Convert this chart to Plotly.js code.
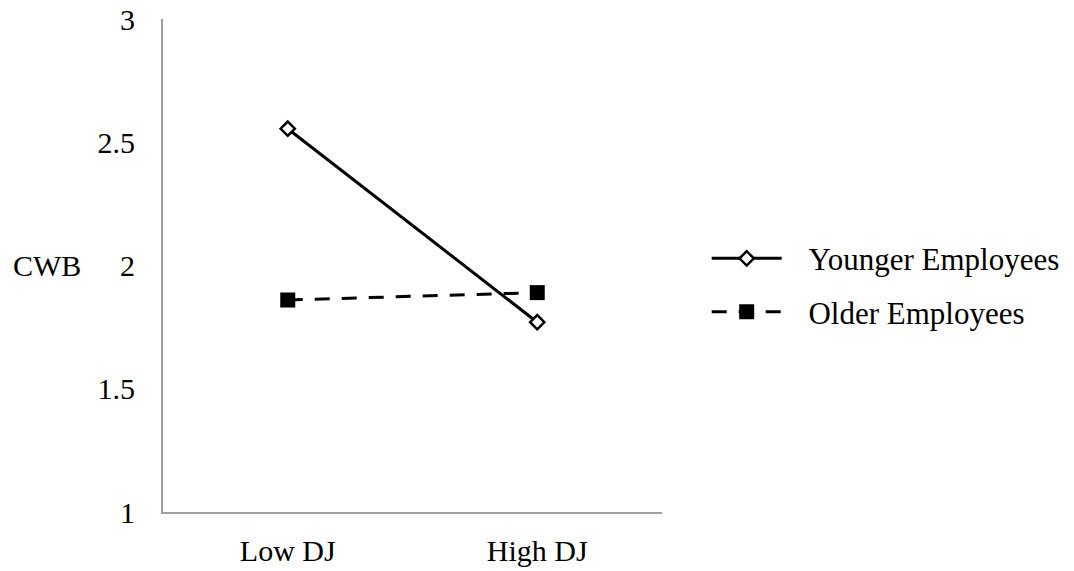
<!DOCTYPE html>
<html>
<head>
<meta charset="utf-8">
<script src="https://cdn.plot.ly/plotly-3.0.1.min.js"></script>
<style>html,body{margin:0;padding:0;background:#fff;}#chart{width:1074px;height:571px;}</style>
</head>
<body>
<div id="chart"></div>
<script>
const categories = ["Low DJ", "High DJ"];
const younger = [2.555, 1.77];
const older = [1.86, 1.89];
const seriesNames = ["Younger Employees", "Older Employees"];
const yTicks = [1, 1.5, 2, 2.5, 3];
const yTickText = ["1", "1.5", "2", "2.5", "3"];
const yAxisLabel = "CWB";

const FONT = "Liberation Serif";
const FS = 30;
const LEGEND_PAD = "\u2002\u2009";

const traces = [
  {
    x: categories, y: younger, name: LEGEND_PAD + seriesNames[0], type: "scatter", mode: "lines+markers",
    legendgroup: "a",
    line: {color: "#000", width: 3},
    marker: {symbol: "diamond", size: 11, color: "#fff", line: {color: "#000", width: 2.5}}
  },
  {
    x: categories, y: older, name: LEGEND_PAD + seriesNames[1], type: "scatter", mode: "lines+markers",
    legendgroup: "b",
    line: {color: "#000", width: 3, dash: "15px,12px"},
    marker: {symbol: "square", size: 15, color: "#000", line: {color: "#000", width: 0}}
  }
];

const layout = {
  width: 1074, height: 571,
  margin: {l: 163, r: 412, t: 19, b: 59},
  paper_bgcolor: "#fff", plot_bgcolor: "#fff",
  font: {family: FONT, size: FS, color: "#000"},
  showlegend: true,
  legend: {
    xref: "container", yref: "container",
    x: 0.658, xanchor: "left", y: 0.5005, yanchor: "middle",
    itemwidth: 70, traceorder: "grouped", tracegroupgap: 10,
    font: {family: FONT, size: 31, color: "#000"},
    bgcolor: "rgba(0,0,0,0)"
  },
  xaxis: {
    type: "category", range: [-0.5, 1.5],
    showline: true, linecolor: "#a0a0a0", linewidth: 2,
    showgrid: false, zeroline: false, ticks: "", ticklabelstandoff: 11,
    tickfont: {family: FONT, size: FS, color: "#000"}, fixedrange: true
  },
  yaxis: {
    range: [1, 3], tickvals: yTicks, ticktext: yTickText,
    showline: true, linecolor: "#a0a0a0", linewidth: 2,
    showgrid: false, zeroline: false, ticks: "", ticklabelstandoff: 20,
    tickfont: {family: FONT, size: FS, color: "#000"}, fixedrange: true
  },
  annotations: [{
    text: yAxisLabel, xref: "paper", yref: "y", x: -0.232, y: 2, xanchor: "center", yanchor: "middle",
    showarrow: false, font: {family: FONT, size: FS, color: "#000"}
  }]
};

Plotly.newPlot("chart", traces, layout, {displayModeBar: false, staticPlot: true});
</script>
</body>
</html>
